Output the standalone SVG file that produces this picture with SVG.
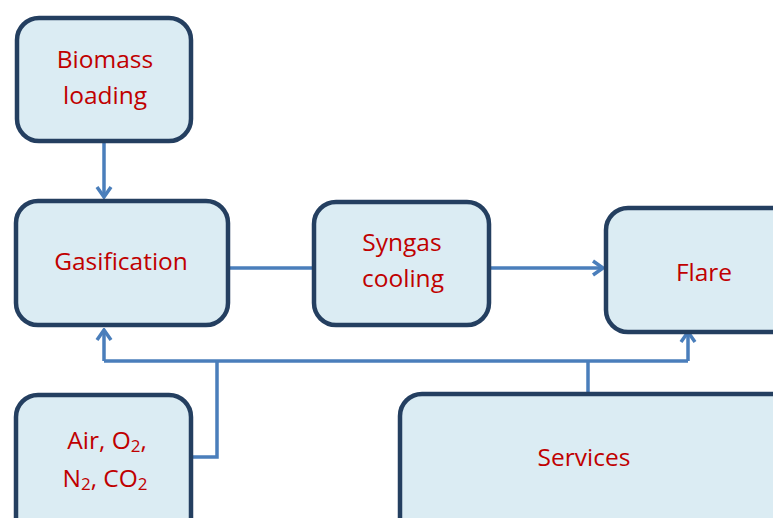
<svg xmlns="http://www.w3.org/2000/svg" width="773" height="518" viewBox="0 0 773 518">
<style>
.box{fill:#DBECF3;stroke:#243F60;stroke-width:4.5}
.lbl{font-family:"Open Sans","Liberation Sans",sans-serif;font-size:24.5px;fill:#C00000;text-anchor:middle}
.sub{font-size:17px}
.con{fill:none;stroke:#4A7EBB;stroke-width:3.5}
</style>
<defs>
<marker id="arr" viewBox="0 0 14 18" refX="12" refY="9" markerWidth="14" markerHeight="18" markerUnits="userSpaceOnUse" orient="auto">
<path d="M2,2 L12,9 L2,16" fill="none" stroke="#4A7EBB" stroke-width="3.5"/>
</marker>
</defs>
<g id="connectors">
<path class="con" d="M104,142 V197" marker-end="url(#arr)"/>
<path class="con" d="M230,268 H313"/>
<path class="con" d="M490,268 H603" marker-end="url(#arr)"/>
<path class="con" d="M104,361 H688"/>
<path class="con" d="M104,361 V330" marker-end="url(#arr)"/>
<path class="con" d="M688,361 V332" marker-end="url(#arr)"/>
<path class="con" d="M192,457 H217 V361"/>
<path class="con" d="M588,393 V361"/>
</g>
<g id="biomass">
<rect class="box" x="17" y="18" width="174" height="123" rx="22"/>
<text class="lbl" x="105" y="68">Biomass</text>
<text class="lbl" x="105" y="104">loading</text>
</g>
<g id="gasification">
<rect class="box" x="16" y="201" width="212" height="124" rx="22"/>
<text class="lbl" x="121" y="270">Gasification</text>
</g>
<g id="syngas">
<rect class="box" x="314" y="202" width="175" height="123" rx="22"/>
<text class="lbl" x="402" y="251">Syngas</text>
<text class="lbl" x="403" y="287">cooling</text>
</g>
<g id="flare">
<rect class="box" x="606" y="208" width="190" height="124" rx="22"/>
<text class="lbl" x="704" y="281">Flare</text>
</g>
<g id="air">
<rect class="box" x="16" y="395" width="175" height="150" rx="22"/>
<text class="lbl" x="107" y="449">Air, O<tspan class="sub" dy="3">2</tspan><tspan dy="-3">,</tspan></text>
<text class="lbl" x="105" y="487">N<tspan class="sub" dy="3">2</tspan><tspan dy="-3">, CO</tspan><tspan class="sub" dy="3">2</tspan></text>
</g>
<g id="services">
<rect class="box" x="400" y="394" width="400" height="150" rx="22"/>
<text class="lbl" x="584" y="466">Services</text>
</g>
</svg>
